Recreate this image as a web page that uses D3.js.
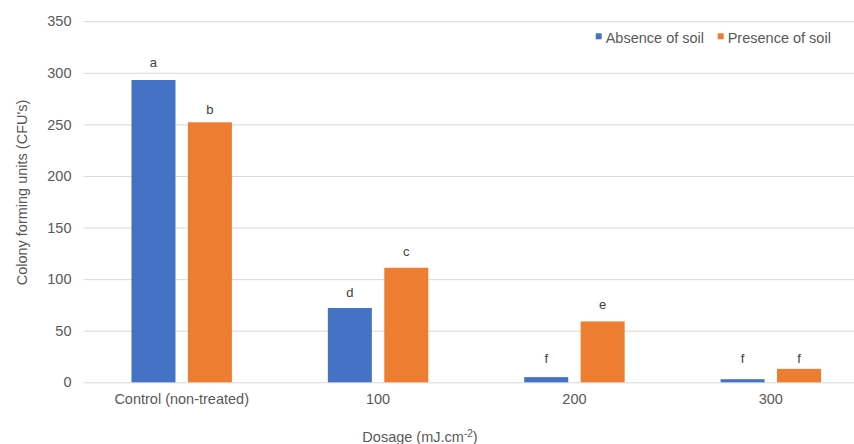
<!DOCTYPE html>
<html>
<head>
<meta charset="utf-8">
<script src="https://cdn.jsdelivr.net/npm/d3@7"></script>
<style>
  html, body { margin: 0; padding: 0; background: #fff; }
  svg { display: block; font-family: "Liberation Sans", Arial, sans-serif; }
</style>
</head>
<body>
<svg id="chart" width="854" height="444"></svg>
<script>
const categories = ["Control (non-treated)", "100", "200", "300"];
const seriesNames = ["Absence of soil", "Presence of soil"];
const absenceValues = [293, 72, 5, 3];
const presenceValues = [252, 111, 59, 13];
const absenceLetters = ["a", "d", "f", "f"];
const presenceLetters = ["b", "c", "e", "f"];
// letter label heights (in CFU units)
const absenceLetterPos = [306, 83, 19, 19];
const presenceLetterPos = [260, 122, 71, 19];
const yTicks = [0, 50, 100, 150, 200, 250, 300, 350];
const colors = ["#4472C4", "#ED7D31"];

const svg = d3.select("#chart");
const textColor = "#595959";

const y = d3.scaleLinear().domain([0, 350]).range([382.3, 21.2]);
const x0 = d3.scaleBand().domain(categories).range([83.5, 869]).padding(0);
const x1 = d3.scaleBand().domain(seriesNames).range([0, x0.bandwidth()])
  .paddingInner(0.22).paddingOuter(0.85);

// gridlines
const yAxis = d3.axisLeft(y).tickValues(yTicks).tickSize(-(869 - 83.5)).tickPadding(12);
const gy = svg.append("g").attr("transform", "translate(83.5,0)").call(yAxis);
gy.select(".domain").remove();
gy.selectAll(".tick line").attr("stroke", "#D9D9D9").attr("stroke-width", 1);
gy.selectAll(".tick text").attr("fill", textColor).style("font-size", "14.5px")
  .attr("font-family", "Liberation Sans, Arial, sans-serif");

// x axis labels
const xAxis = d3.axisBottom(x0).tickSize(0).tickPadding(11);
const gx = svg.append("g").attr("transform", "translate(0,382.3)").call(xAxis);
gx.select(".domain").remove();
gx.selectAll(".tick text").attr("fill", textColor).style("font-size", "14.5px")
  .attr("font-family", "Liberation Sans, Arial, sans-serif");

// data rows
const rows = categories.map((c, i) => ({
  cat: c,
  vals: [
    { s: seriesNames[0], v: absenceValues[i], l: absenceLetters[i], lp: absenceLetterPos[i], c: colors[0] },
    { s: seriesNames[1], v: presenceValues[i], l: presenceLetters[i], lp: presenceLetterPos[i], c: colors[1] }
  ]
}));

const groups = svg.append("g").selectAll("g").data(rows).join("g")
  .attr("transform", d => `translate(${x0(d.cat)},0)`);

groups.selectAll("rect").data(d => d.vals).join("rect")
  .attr("x", d => x1(d.s))
  .attr("width", x1.bandwidth())
  .attr("y", d => y(d.v))
  .attr("height", d => y(0) - y(d.v))
  .attr("fill", d => d.c);

groups.selectAll("text.lbl").data(d => d.vals).join("text")
  .attr("class", "lbl")
  .attr("x", d => x1(d.s) + x1.bandwidth() / 2)
  .attr("y", d => y(d.lp))
  .attr("text-anchor", "middle")
  .attr("fill", "#404040")
  .style("font-size", "13px")
  .text(d => d.l);

// y axis title
svg.append("text")
  .attr("transform", "translate(26.5,192.5) rotate(-90)")
  .attr("text-anchor", "middle")
  .attr("fill", textColor)
  .style("font-size", "14.5px")
  .text("Colony forming units (CFU's)");

// x axis title
const xt = svg.append("text")
  .attr("x", 420)
  .attr("y", 442)
  .attr("text-anchor", "middle")
  .attr("fill", textColor)
  .style("font-size", "14.5px");
xt.append("tspan").text("Dosage (mJ.cm");
xt.append("tspan").attr("dy", -5).style("font-size", "10px").text("-2");
xt.append("tspan").attr("dy", 5).text(")");

// legend
const legend = svg.append("g");
const legendX = [595.7, 717.7];
seriesNames.forEach((s, i) => {
  legend.append("rect").attr("x", legendX[i]).attr("y", 33.3).attr("width", 6).attr("height", 6).attr("fill", colors[i]);
  legend.append("text").attr("x", legendX[i] + 10).attr("y", 42.5)
    .attr("fill", textColor).style("font-size", "14.5px").text(s);
});
</script>
</body>
</html>
